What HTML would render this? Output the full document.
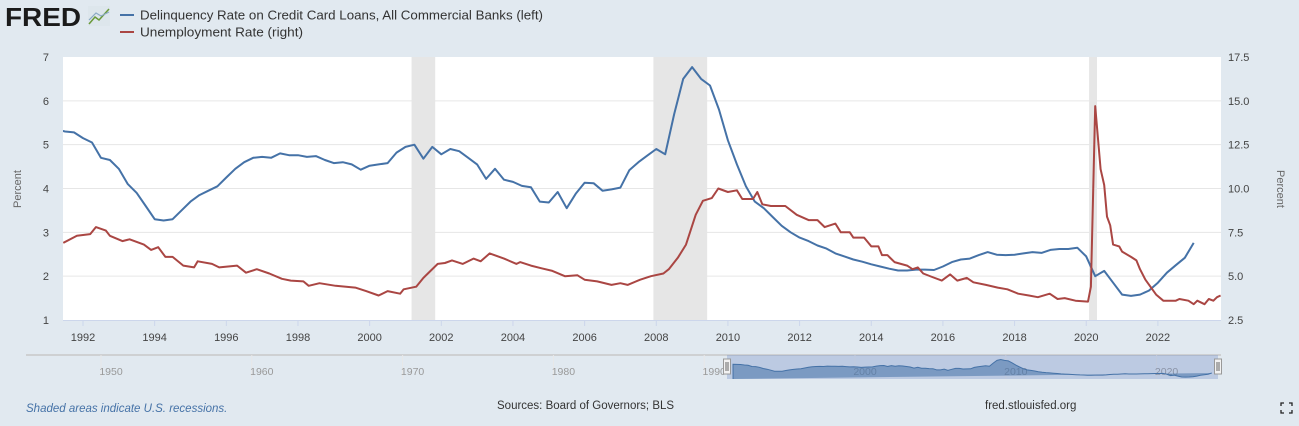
<!DOCTYPE html>
<html><head><meta charset="utf-8"><style>
body{margin:0;background:#e1e9f0;font-family:"Liberation Sans",sans-serif;}
svg{display:block}
</style></head><body>
<svg width="1299" height="426" viewBox="0 0 1299 426">
<rect width="1299" height="426" fill="#e1e9f0"/>
<g>
<text x="5" y="26" font-size="26" font-weight="bold" fill="#1b1b1b" textLength="76" lengthAdjust="spacingAndGlyphs">FRED</text>
<rect x="88" y="6" width="22" height="20" fill="#dde6ec"/>
<polyline points="89,24 95,17 99,20 109,9" fill="none" stroke="#6a9a3a" stroke-width="1.5"/>
<polyline points="89,20 96,13 101,16 109,12" fill="none" stroke="#8aa9c4" stroke-width="1.2"/>
</g>
<g>
<g>
<line x1="120" y1="15" x2="134" y2="15" stroke="#4572a7" stroke-width="2"/>
<text x="140" y="19.5" font-size="13" fill="#333" textLength="403" lengthAdjust="spacingAndGlyphs">Delinquency Rate on Credit Card Loans, All Commercial Banks (left)</text></g>
<g>
<line x1="120" y1="32" x2="134" y2="32" stroke="#aa4643" stroke-width="2"/>
<text x="140" y="36.5" font-size="13" fill="#333" textLength="163" lengthAdjust="spacingAndGlyphs">Unemployment Rate (right)</text></g>
</g>
<rect x="63" y="57" width="1158" height="263" fill="#fff"/>
<g id="rec"></g><g id="grid"></g><g id="axes"></g><g id="series"></g><g id="nav"></g>
<text transform="translate(21,189) rotate(-90)" text-anchor="middle" font-size="11" fill="#666">Percent</text>
<text transform="translate(1277,189) rotate(90)" text-anchor="middle" font-size="11" fill="#666">Percent</text>
<text x="26" y="412" font-size="11.5" font-style="italic" fill="#4572a7">Shaded areas indicate U.S. recessions.</text>
<text x="497" y="409" font-size="11.5" fill="#333">Sources: Board of Governors; BLS</text>
<text x="985" y="409" font-size="11.5" fill="#333">fred.stlouisfed.org</text>
<g stroke="#222" stroke-width="1.3" fill="none">
<polyline points="1281,406 1281,403 1284,403"/><polyline points="1289,403 1292,403 1292,406"/>
<polyline points="1281,410 1281,413 1284,413"/><polyline points="1289,413 1292,413 1292,410"/></g>
</svg>
<script>
const NS="http://www.w3.org/2000/svg";
const recStarts=[2001.17,2007.92,2020.08];
const recEnds=[2001.83,2009.42,2020.3];
const leftTicks=[1,2,3,4,5,6,7];
const rightTicks=["2.5","5.0","7.5","10.0","12.5","15.0","17.5"];
const xTicks=[1992,1994,1996,1998,2000,2002,2004,2006,2008,2010,2012,2014,2016,2018,2020,2022];
const delDates=[1991.25,1991.5,1991.75,1992,1992.25,1992.5,1992.75,1993,1993.25,1993.5,1993.75,1994,1994.25,1994.5,1994.75,1995,1995.25,1995.5,1995.75,1996,1996.25,1996.5,1996.75,1997,1997.25,1997.5,1997.75,1998,1998.25,1998.5,1998.75,1999,1999.25,1999.5,1999.75,2000,2000.25,2000.5,2000.75,2001,2001.25,2001.5,2001.75,2002,2002.25,2002.5,2002.75,2003,2003.25,2003.5,2003.75,2004,2004.25,2004.5,2004.75,2005,2005.25,2005.5,2005.75,2006,2006.25,2006.5,2006.75,2007,2007.25,2007.5,2007.75,2008,2008.25,2008.5,2008.75,2009,2009.25,2009.5,2009.75,2010,2010.25,2010.5,2010.75,2011,2011.25,2011.5,2011.75,2012,2012.25,2012.5,2012.75,2013,2013.25,2013.5,2013.75,2014,2014.25,2014.5,2014.75,2015,2015.25,2015.5,2015.75,2016,2016.25,2016.5,2016.75,2017,2017.25,2017.5,2017.75,2018,2018.25,2018.5,2018.75,2019,2019.25,2019.5,2019.75,2020,2020.25,2020.5,2020.75,2021,2021.25,2021.5,2021.75,2022,2022.25,2022.5,2022.75,2023,2023.25];
const delValues=[5.35,5.3,5.28,5.15,5.05,4.7,4.65,4.45,4.1,3.9,3.6,3.3,3.27,3.3,3.5,3.7,3.85,3.95,4.05,4.25,4.45,4.6,4.7,4.72,4.7,4.8,4.76,4.76,4.72,4.74,4.65,4.58,4.6,4.55,4.43,4.52,4.55,4.58,4.82,4.95,5.0,4.68,4.95,4.78,4.9,4.85,4.7,4.55,4.22,4.45,4.2,4.15,4.06,4.03,3.7,3.68,3.92,3.55,3.88,4.13,4.12,3.95,3.98,4.02,4.42,4.6,4.75,4.9,4.78,5.7,6.5,6.77,6.5,6.35,5.8,5.1,4.55,4.05,3.7,3.55,3.35,3.15,3.0,2.88,2.8,2.7,2.63,2.52,2.45,2.38,2.33,2.27,2.22,2.17,2.13,2.13,2.15,2.15,2.14,2.22,2.32,2.38,2.4,2.48,2.55,2.49,2.48,2.49,2.52,2.55,2.53,2.6,2.62,2.62,2.65,2.45,2.0,2.12,1.85,1.58,1.55,1.58,1.67,1.85,2.08,2.25,2.42,2.76];
const unDates=[1991.45,1991.83,1992.2,1992.36,1992.64,1992.75,1993.1,1993.3,1993.7,1993.9,1994.1,1994.3,1994.5,1994.8,1995.1,1995.2,1995.6,1995.8,1996.3,1996.55,1996.85,1997.2,1997.55,1997.8,1998.15,1998.3,1998.6,1999.05,1999.6,1999.9,2000.25,2000.5,2000.85,2000.95,2001.3,2001.5,2001.9,2002.1,2002.3,2002.6,2002.9,2003.1,2003.35,2003.75,2004.1,2004.2,2004.5,2004.8,2005.1,2005.45,2005.8,2006.0,2006.35,2006.75,2007.0,2007.2,2007.55,2007.85,2008.2,2008.35,2008.6,2008.83,2009.1,2009.3,2009.55,2009.73,2010.0,2010.25,2010.4,2010.7,2010.82,2010.96,2011.2,2011.6,2011.92,2012.25,2012.5,2012.7,2013.0,2013.15,2013.4,2013.5,2013.8,2014.0,2014.2,2014.3,2014.45,2014.65,2015.0,2015.15,2015.3,2015.45,2015.7,2015.97,2016.2,2016.4,2016.67,2016.85,2017.2,2017.53,2017.8,2018.1,2018.4,2018.65,2018.98,2019.2,2019.4,2019.7,2020.05,2020.13,2020.25,2020.4,2020.5,2020.58,2020.67,2020.75,2020.92,2021.0,2021.25,2021.4,2021.5,2021.65,2021.95,2022.15,2022.5,2022.6,2022.85,2023.0,2023.1,2023.3,2023.42,2023.55,2023.65,2023.75];
const unValues=[6.9,7.3,7.4,7.8,7.6,7.3,7.0,7.1,6.8,6.5,6.65,6.1,6.1,5.6,5.5,5.85,5.7,5.5,5.6,5.2,5.4,5.15,4.85,4.75,4.7,4.45,4.6,4.45,4.35,4.15,3.9,4.15,4.0,4.25,4.4,4.9,5.7,5.75,5.9,5.7,6.0,5.85,6.3,6.0,5.7,5.8,5.6,5.45,5.3,5.0,5.05,4.8,4.7,4.5,4.6,4.5,4.8,5.0,5.15,5.4,6.05,6.8,8.5,9.3,9.45,10.0,9.8,9.9,9.4,9.4,9.8,9.1,9.0,9.0,8.5,8.2,8.2,7.8,8.0,7.5,7.5,7.2,7.2,6.7,6.7,6.2,6.2,5.8,5.6,5.4,5.5,5.15,4.95,4.75,5.1,4.75,4.9,4.65,4.5,4.35,4.25,4.0,3.9,3.8,4.0,3.7,3.75,3.6,3.55,4.4,14.7,11.1,10.2,8.4,7.9,6.8,6.7,6.4,6.1,5.9,5.4,4.8,3.95,3.6,3.6,3.7,3.6,3.4,3.6,3.4,3.7,3.6,3.8,3.9];

const X0=63,X1=1221,Y0=57,Y1=320;
const x=t=>83+(t-1992)*35.83;
const yL=v=>Y1-(v-1)*(Y1-Y0)/6;
const yR=v=>Y1-(v-2.5)*(Y1-Y0)/15;
function mk(tag,attrs,parent,txt){const e=document.createElementNS(NS,tag);for(const k in attrs)e.setAttribute(k,attrs[k]);if(txt!==undefined)e.textContent=txt;parent.appendChild(e);return e;}
const rec=document.getElementById('rec'),grid=document.getElementById('grid'),axes=document.getElementById('axes'),ser=document.getElementById('series'),nav=document.getElementById('nav');
recStarts.forEach((s,i)=>{const r=mk('rect',{x:x(s),y:Y0,width:x(recEnds[i])-x(s),height:Y1-Y0,fill:'#e6e6e6'},rec);

});
leftTicks.forEach((v,i)=>{
 if(i>0&&i<6){const g=mk('line',{x1:X0,x2:X1,y1:yL(v),y2:yL(v),stroke:'#e6e6e6','stroke-width':1},grid);
 
 }
 const t=mk('text',{x:49,y:yL(v)+4,'text-anchor':'end','font-size':11,fill:'#444'},axes,String(v));
 
 
 const t2=mk('text',{x:1228,y:yL(v)+4,'font-size':11,fill:'#444'},axes,rightTicks[i]);
 
 
});
mk('line',{x1:X0,x2:X1,y1:Y1+0.5,y2:Y1+0.5,stroke:'#ccd6eb'},axes);
xTicks.forEach(yr=>{
 mk('line',{x1:x(yr),x2:x(yr),y1:Y1,y2:Y1+6,stroke:'#ccd6eb'},axes);
 const t=mk('text',{x:x(yr),y:341,'text-anchor':'middle','font-size':11,fill:'#444'},axes,String(yr));
 
 
});
const cp=mk('clipPath',{id:'cp'},ser);mk('rect',{x:X0,y:Y0-5,width:X1-X0,height:Y1-Y0+10},cp);
const p1=mk('path',{d:delDates.map((d,i)=>(i?'L':'M')+x(d).toFixed(1)+','+yL(delValues[i]).toFixed(1)).join(''),fill:'none',stroke:'#4572a7','stroke-width':2,'clip-path':'url(#cp)','stroke-linejoin':'round'},ser);


const p2=mk('path',{d:unDates.map((d,i)=>(i?'L':'M')+x(d).toFixed(1)+','+yR(unValues[i]).toFixed(1)).join(''),fill:'none',stroke:'#aa4643','stroke-width':2,'clip-path':'url(#cp)','stroke-linejoin':'round'},ser);


const NX0=26,NX1=1221,NY0=355,NY1=379;
const nx=t=>111+(t-1950)*15.08;
mk('line',{x1:NX0,x2:NX1,y1:NY0,y2:NY0,stroke:'#c8c8c8','stroke-width':1.5},nav);
[1950,1960,1970,1980,1990,2000,2010,2020].forEach(yr=>{
 mk('line',{x1:nx(yr)-10,x2:nx(yr)-10,y1:NY0,y2:NY1,stroke:'#e8e8e8'},nav);
 const t=mk('text',{x:nx(yr),y:375,'text-anchor':'middle','font-size':10.5,fill:'#999'},nav,String(yr));
 
 
});
const sel=mk('rect',{x:727,y:NY0,width:491,height:NY1-NY0,fill:'rgba(102,133,194,0.3)'},nav);


const ny=v=>NY1-(v-1)*22/6.5;
const nd='M'+nx(delDates[0])+','+NY1+delDates.map((d,i)=>'L'+nx(d).toFixed(1)+','+ny(delValues[i]).toFixed(1)).join('')+'L'+nx(delDates[delDates.length-1])+','+NY1+'Z';
const np=mk('path',{d:nd,fill:'rgba(69,114,167,0.55)',stroke:'#4572a7','stroke-width':1},nav);


[727,1218].forEach(hx=>{const h=mk('rect',{x:hx-3.5,y:359,width:7,height:15,fill:'#f2f2f2',stroke:'#999'},nav);


mk('line',{x1:hx-1,x2:hx-1,y1:362,y2:371,stroke:'#666'},nav);mk('line',{x1:hx+1,x2:hx+1,y1:362,y2:371,stroke:'#666'},nav);});
</script>
</body></html>
